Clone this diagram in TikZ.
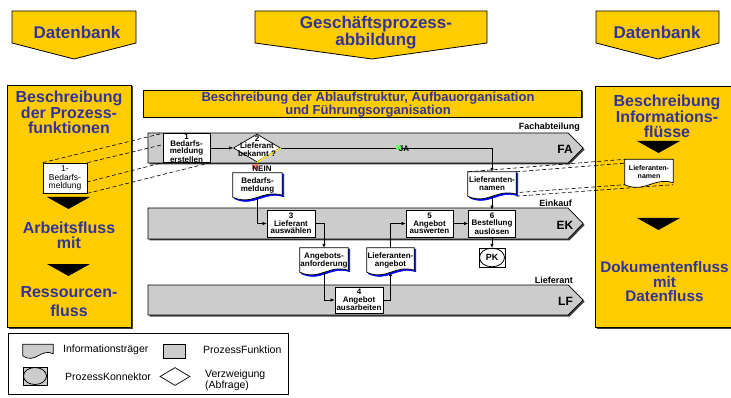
\documentclass[tikz,border=0pt]{standalone}
\usepackage{fontspec}
\setmainfont{Liberation Sans}
\usetikzlibrary{arrows.meta,calc,shapes.geometric}
\definecolor{gold}{HTML}{FFCC00}
\definecolor{tblue}{HTML}{333399}
\definecolor{lanegray}{HTML}{CCCCCC}
\definecolor{docblue}{HTML}{0000FF}
\definecolor{shadowc}{HTML}{3F3F3F}
\definecolor{jagreen}{HTML}{66FF66}
\definecolor{neinred}{HTML}{FF7F7F}
\pgfdeclarelayer{back}
\pgfdeclarelayer{lines}
\pgfdeclarelayer{docs}
\pgfsetlayers{back,lines,docs,main}
% document shape (Informationstraeger) around a node: style, node, offset
\newcommand\docshape[3]{%
 \draw[#1] ($(#2.south west)+#3$) -- ($(#2.north west)+#3$) -- ($(#2.north east)+#3$) -- ($(#2.south east)+(0,-2)+#3$)
 .. controls ($(#2.south west)!0.6!(#2.south east)+(0,-8)+#3$) and ($(#2.south west)!0.4!(#2.south east)+(0,9)+#3$) .. ($(#2.south west)+#3$) -- cycle;}
% swim lane: top y, bottom y
\newcommand\lanebar[2]{%
 \fill[shadowc] (149.5,#1+1.5) -- (569.5,#1+1.5) -- (584.5,{(#1+#2)/2+1.5}) -- (569.5,#2+1.5) -- (149.5,#2+1.5) -- cycle;
 \draw[lanest] (148,#1) -- (568,#1) -- (583,{(#1+#2)/2}) -- (568,#2) -- (148,#2) -- cycle;}
% banner arrow: left x, right x, tip x
\newcommand\banner[3]{%
 \draw[bannerst] (#1,11) -- (#2,11) -- (#2,43) -- (#3,59) -- (#1,43) -- cycle;}
\begin{document}
\begin{tikzpicture}[x=1pt,y=-1pt,
 every node/.style={inner sep=0},
 bannerst/.style={fill=gold, draw=black, line width=0.8pt},
 bigbox/.style={fill=gold, draw=black, line width=0.8pt},
 title/.style={text=tblue, font=\bfseries\fontsize{17}{15}\selectfont, align=center},
 big/.style={text=tblue, font=\bfseries\fontsize{16}{15.5}\selectfont, align=center},
 hdr/.style={text=tblue, font=\bfseries\fontsize{13}{11.5}\selectfont, align=center},
 fbox/.style={draw=black, fill=white, line width=0.7pt, align=center, font=\bfseries\fontsize{8}{7.3}\selectfont},
 doct/.style={align=center, font=\bfseries\fontsize{8}{8}\selectfont},
 lanest/.style={fill=lanegray, draw=black, line width=0.7pt},
 lanelab/.style={font=\bfseries\fontsize{12}{12}\selectfont},
 lanename/.style={font=\bfseries\fontsize{9}{9}\selectfont, anchor=east},
 flow/.style={-{Latex[length=4pt,width=3.5pt]}, line width=0.6pt},
 proj/.style={dash pattern=on 4pt off 2.5pt, line width=0.6pt},
 legt/.style={font=\fontsize{10.5}{9}\selectfont, anchor=west, align=left},
 tri/.style={fill=black}]
\useasboundingbox (0,0) rectangle (731,398);

\begin{pgfonlayer}{back}
 % banners
 \banner{12}{136}{74}
 \banner{255}{487}{372}
 \banner{596}{719}{658}
 % big side boxes
 \fill[shadowc] (8.5,86.5) rectangle (132.5,328.5);
 \draw[bigbox] (7,85) rectangle (131,327);
 \fill[shadowc] (596.5,87.5) rectangle (745,328.5);
 \draw[bigbox] (595,86) rectangle (742,327);
 \fill[tri] (47,197) -- (90,197) -- (68.5,209) -- cycle;
 \fill[tri] (47,264) -- (90,264) -- (68.5,276) -- cycle;
 \fill[tri] (637,141) -- (680,141) -- (658.5,153) -- cycle;
 \fill[tri] (637,218) -- (680,218) -- (658.5,230) -- cycle;
 % header bar
 \fill[shadowc] (144.5,91.5) rectangle (582.5,118.5);
 \draw[bigbox] (143,90) rectangle (581,117);
 % lanes
 \lanebar{133}{163}
 \lanebar{208}{239}
 \lanebar{285}{315}
 % legend frame
 \draw[line width=0.8pt, fill=white] (8,333) rectangle (288,394);
\end{pgfonlayer}

% banner titles
\node[title] (t1) at (77,32) {Datenbank};
\node[title] (t2) at (376,33) {Geschäftsprozess-\\abbildung};
\node[title] (t3) at (657,32) {Datenbank};
% side box texts
\node[big] (l1) at (69,112.7) {Beschreibung\\der Prozess-\\funktionen};
\node[big] (l2) at (69,235.5) {Arbeitsfluss\\mit};
\node[big, font=\bfseries\fontsize{16}{19}\selectfont] (l3) at (69,302) {Ressourcen-\\fluss};
\node[big] (r1) at (667,116.7) {Beschreibung\\Informations-\\flüsse};
\node[big, font=\bfseries\fontsize{15.3}{14.5}\selectfont] (r2) at (664.5,282) {Dokumentenfluss\\mit\\Datenfluss};
\node[hdr] (h1) at (368,104.5) {Beschreibung der Ablaufstruktur, Aufbauorganisation\\und Führungsorganisation};

% lane labels
\node[lanelab] (fa) at (565,149) {FA};
\node[lanelab] (ek) at (565,225) {EK};
\node[lanelab] (lf) at (565.5,301) {LF};
\node[lanename] (fan) at (580,127.5) {Fachabteilung};
\node[lanename] (ekn) at (572,203.5) {Einkauf};
\node[lanename] (lfn0) at (573,280) {Lieferant};

% process boxes
\node[fbox, minimum width=47, minimum height=28] (b1) at (186.5,148) {1\\Bedarfs-\\meldung\\erstellen};
\node[diamond, draw=black, fill=white, line width=0.7pt, minimum width=47, minimum height=28] (d2) at (257,148) {};
\draw[yellow, line width=1.2pt] (d2.east) -- (d2.south);
\node[font=\bfseries\fontsize{8}{7.3}\selectfont, align=center] (d2t) at (257,146) {2\\Lieferant\\bekannt ?};
\node[fbox, minimum width=48, minimum height=27] (b3) at (291,223.5) {3\\Lieferant\\auswählen};
\node[fbox, minimum width=48, minimum height=26] (b4) at (359,300) {4\\Angebot\\ausarbeiten};
\node[fbox, minimum width=47, minimum height=27] (b5) at (429.5,223.5) {5\\Angebot\\auswerten};
\node[fbox, minimum width=47, minimum height=27] (b6) at (492,223.5) {6\\Bestellung\\auslösen};
\node[draw=black, fill=white, line width=0.4pt, minimum width=26, minimum height=19] (pk) at (492,257.5) {};
\draw[line width=0.8pt] (pk.center) ellipse (12.5 and 9.3);
\node[font=\bfseries\fontsize{9}{9}\selectfont] (pkt) at (492,257.5) {PK};

% documents
\node[doct, minimum width=49, minimum height=24] (bm) at (257.5,185) {Bedarfs-\\meldung};
\node[doct, minimum width=48, minimum height=24] (lfn) at (492,184) {Lieferanten-\\namen};
\node[doct, minimum width=48, minimum height=24] (aa) at (324,260) {Angebots-\\anforderung};
\node[doct, minimum width=47, minimum height=24] (la) at (390.5,260) {Lieferanten-\\angebot};
\node[draw=black, fill=white, line width=0.7pt, minimum width=44, minimum height=30, align=center, font=\fontsize{8.5}{8.5}\selectfont] (ld) at (65,178) {1-\\Bedarfs-\\meldung};
\node[align=center, font=\bfseries\fontsize{7}{8.5}\selectfont, minimum width=48, minimum height=25] (rd) at (649,172) {Lieferanten-\\namen};

\begin{pgfonlayer}{docs}
 \foreach \d in {bm,lfn,aa,la}{
  \docshape{fill=docblue,draw=docblue,line width=0.6pt}{\d}{(1.5,1.5)}
  \docshape{fill=white,draw=black,line width=0.7pt}{\d}{(0,0)}
 }
 \docshape{fill=white,draw=black,line width=0.7pt}{rd}{(0,0)}
\end{pgfonlayer}

% flow connectors
\draw[flow] (b1.east) -- (d2.west);
\draw[flow] (d2.east) -| (lfn.north);
\draw[flow] (bm.south) |- (b3.west);
\draw[flow] (b3.east) -| (aa.north);
\draw[flow] (aa.south) |- (b4.west);
\draw[flow] (b4.east) -| (la.south);
\draw[flow] (la.north) |- (b5.west);
\draw[flow] (b5.east) -- (b6.west);
\draw[flow] (lfn.south) -- (b6.north);
\draw[flow] (b6.south) -- (pk.north);

% branch labels
\fill[jagreen] (396,145) rectangle (401,150);
\node[font=\bfseries\fontsize{8}{8}\selectfont] (ja) at (404,149) {JA};
\fill[neinred] (252,164) rectangle (258,169.5);
\node[font=\bfseries\fontsize{8}{8}\selectfont] (nein) at (262,168.5) {NEIN};

% projection lines
\begin{pgfonlayer}{lines}
 \draw[proj] (ld.north west) -- (b1.north west);
 \draw[proj] (ld.north east) -- (b1.north east);
 \draw[proj] (ld.south west) -- (b1.south west);
 \draw[proj] (ld.south east) -- (b1.south east);
 \draw[proj] (lfn.north west) -- (rd.north west);
 \draw[proj] (lfn.north east) -- (rd.north east);
 \draw[proj] (lfn.south west) -- (rd.south west);
 \draw[proj] (lfn.south east) -- (rd.south east);
\end{pgfonlayer}

% legend
\node[minimum width=30, minimum height=11] (lgdoc) at (38,350) {};
\begin{pgfonlayer}{docs}
 \docshape{fill=lanegray,draw=black,line width=0.7pt}{lgdoc}{(0,0)}
\end{pgfonlayer}
\node[legt] (lgt1) at (63,350) {Informationsträger};
\node[draw=black, fill=lanegray, line width=0.7pt, minimum width=22, minimum height=14] (lgbox) at (174,351) {};
\node[legt] (lgt2) at (203,350) {ProzessFunktion};
\node[draw=black, fill=lanegray, line width=0.7pt, minimum width=24, minimum height=18] (lgpk) at (35,376) {};
\draw[line width=0.8pt, fill=lanegray] (lgpk.center) ellipse (11.5 and 8.5);
\node[legt] (lgt3) at (65,376.5) {ProzessKonnektor};
\node[diamond, draw=black, fill=white, line width=0.7pt, minimum width=30, minimum height=18] (lgdia) at (175,376.5) {};
\node[legt] (lgt4) at (205,380.5) {Verzweigung\\(Abfrage)};
\end{tikzpicture}
\end{document}
